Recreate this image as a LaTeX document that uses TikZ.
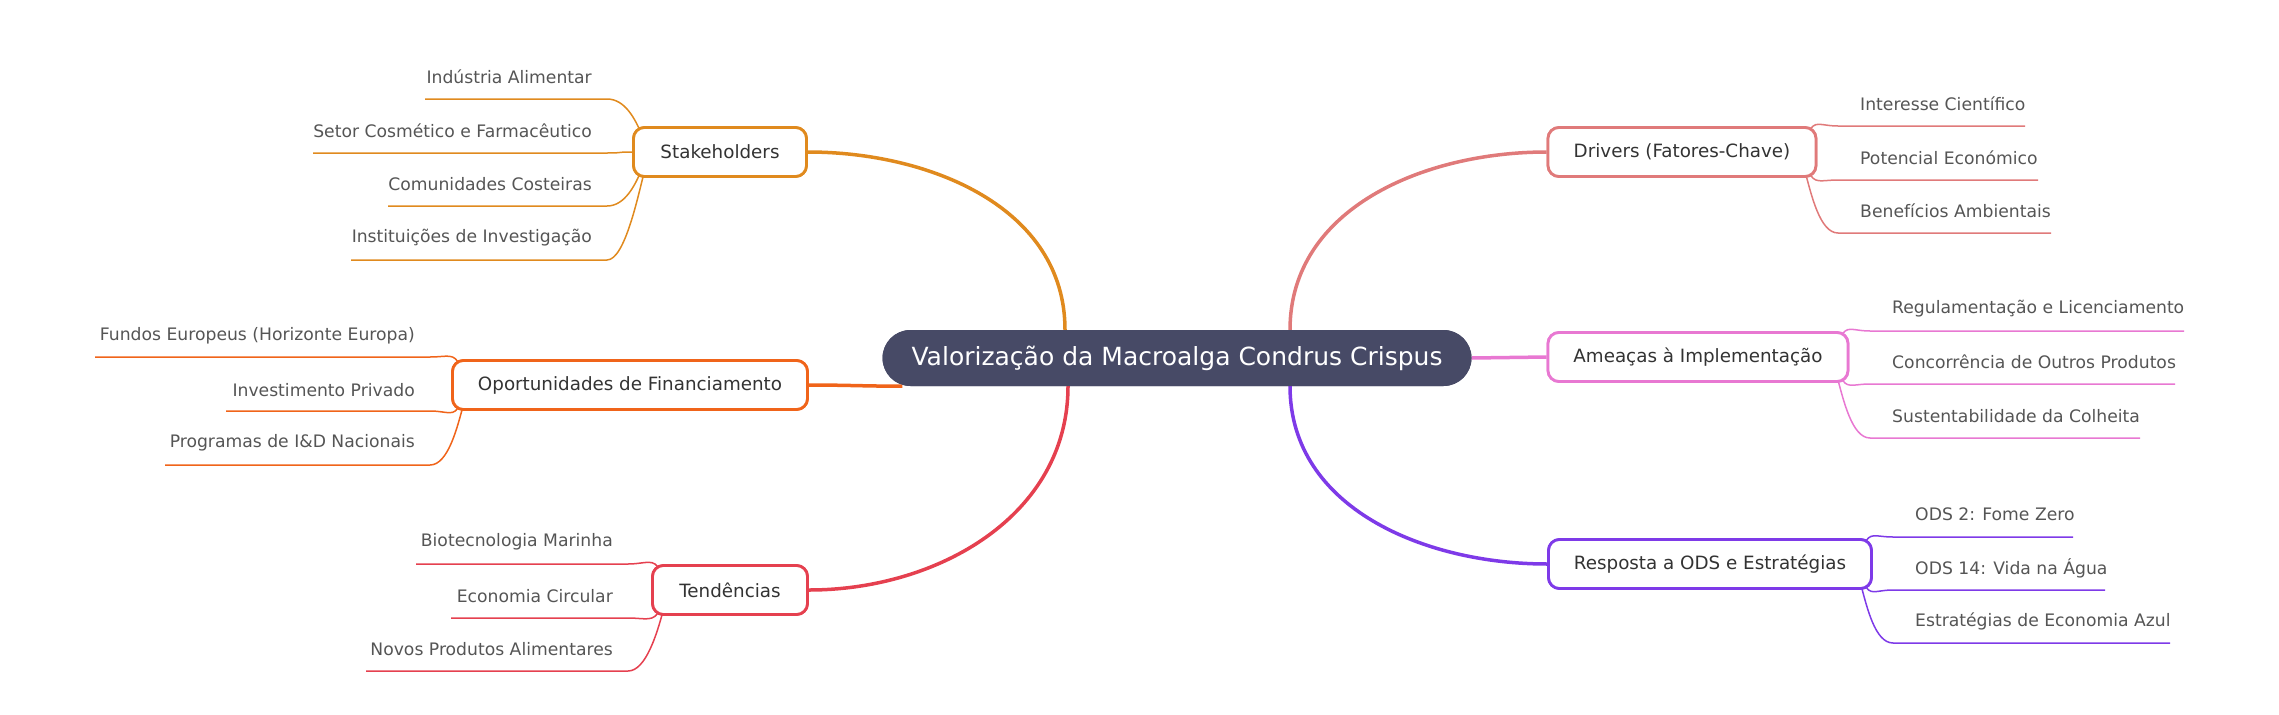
\documentclass[tikz,border=0pt]{standalone}
\usepackage{fontspec}
\setmainfont{DejaVu Sans}
\usetikzlibrary{calc}
\definecolor{cst}{HTML}{E08A1E}
\definecolor{cop}{HTML}{F0641A}
\definecolor{cte}{HTML}{E5404F}
\definecolor{cdr}{HTML}{E07A7A}
\definecolor{cam}{HTML}{E878D2}
\definecolor{cre}{HTML}{7E3AE8}
\definecolor{cmain}{HTML}{474A66}
\definecolor{ltext}{HTML}{555555}
\begin{document}
\begin{tikzpicture}[x=1pt,y=-1pt,
  boxn/.style={draw,line width=2.8pt,rounded corners=11pt,fill=white,minimum height=49pt,inner sep=0pt,font=\fontsize{18.3}{21}\selectfont,text=black!80},
  centn/.style={fill=cmain,rounded corners=28pt,minimum width=589pt,minimum height=56pt,text=white,font=\fontsize{25}{29}\selectfont,inner sep=0pt},
  leaf/.style={font=\fontsize{17.2}{20}\selectfont,text=ltext,inner sep=0pt},
  main/.style={line width=3.5pt},
  thin/.style={line width=1.5pt}]
\useasboundingbox (0,0) rectangle (2279,715);
\node[centn] (c) at (1177,358) {Valorização da Macroalga Condrus Crispus};
\node[boxn,draw=cst,minimum width=173pt] (stk) at (720,152) {Stakeholders};
\node[boxn,draw=cop,minimum width=355pt] (opp) at (630,385) {Oportunidades de Financiamento};
\node[boxn,draw=cte,minimum width=155pt] (ten) at (730,590) {Tendências};
\node[boxn,draw=cdr,minimum width=268pt] (drv) at (1682,152) {Drivers (Fatores-Chave)};
\node[boxn,draw=cam,minimum width=300pt] (ame) at (1698,357) {Ameaças à Implementação};
\node[boxn,draw=cre,minimum width=323pt] (res) at (1710,564) {Resposta a ODS e Estratégias};
\draw[main,cst] ($(c.north)+(-112,0)$) to[out=90,in=0] (stk.east);
\draw[main,cop] (opp.east) to[out=0,in=180] ($(c.south west)+(20,0)$);
\draw[main,cte] ($(c.south)+(-109,0)$) to[out=-90,in=0] (ten.east);
\draw[main,cdr] ($(c.north)+(113,0)$) to[out=90,in=180] (drv.west);
\draw[main,cam] (c.east) -- (ame.west);
\draw[main,cre] ($(c.south)+(113,0)$) to[out=-90,in=180] (res.west);
\foreach \tx/\ty/\ly/\xs/\xe/\col/\bx/\n/\an/\dx/\dy/\cx/\cy in {
 Indústria Alimentar/77/99/425/607/cst/stk/a1/north west/9/7/-6/-14,
 Setor Cosmético e Farmacêutico/131/153/313/607/cst/stk/a2/west/0/0/-18/0,
 Comunidades Costeiras/184/206/388/607/cst/stk/a3/south west/9/-7/-6/14,
 Instituições de Investigação/238/260/351/607/cst/stk/a4/south west/12/-5/-6/22,
 Fundos Europeus (Horizonte Europa)/336/357/95/430/cop/opp/b1/north west/9/7/-6/-14,
 Investimento Privado/390/411/226/430/cop/opp/b2/south west/9/-7/-6/14,
 Programas de I\&D Nacionais/443/465/165/430/cop/opp/b3/south west/12/-5/-6/22,
 Biotecnologia Marinha/542/564/416/628/cte/ten/c1/north west/9/7/-6/-14,
 Economia Circular/596/618/451/628/cte/ten/c2/south west/9/-7/-6/14,
 Novos Produtos Alimentares/649/671/366/628/cte/ten/c3/south west/12/-5/-6/22}{
 \node[leaf,anchor=east] (\n) at (\xe-15,\ty) {\tx};
 \coordinate (\n s) at (\xs,\ly);
 \coordinate (\n e) at (\xe,\ly);
 \draw[thin,\col] (\n s) -- (\n e) .. controls +(18,0) and +(\cx,\cy) .. ($(\bx.\an)+(\dx,\dy)$);
}
\foreach \tx/\ty/\ly/\xs/\xe/\col/\bx/\n/\an/\dx/\dy/\cx/\cy in {
 Interesse Científico/104/126/1838/2025/cdr/drv/d1/north east/-9/7/6/-14,
 Potencial Económico/158/180/1838/2038/cdr/drv/d2/south east/-9/-7/6/14,
 Benefícios Ambientais/211/233/1838/2051/cdr/drv/d3/south east/-12/-5/6/22,
 Regulamentação e Licenciamento/309/331/1870/2184/cam/ame/e1/north east/-9/7/6/-14,
 Concorrência de Outros Produtos/362/384/1870/2175/cam/ame/e2/south east/-9/-7/6/14,
 Sustentabilidade da Colheita/416/438/1870/2140/cam/ame/e3/south east/-12/-5/6/22,
 ODS 2: Fome Zero/514/537/1893/2073/cre/res/f1/north east/-9/7/6/-14,
 ODS 14: Vida na Água/568/590/1893/2105/cre/res/f2/south east/-9/-7/6/14,
 Estratégias de Economia Azul/621/643/1893/2170/cre/res/f3/south east/-12/-5/6/22}{
 \node[leaf,anchor=west] (\n) at (\xs+22,\ty) {\tx};
 \coordinate (\n s) at (\xs,\ly);
 \coordinate (\n e) at (\xe,\ly);
 \draw[thin,\col] ($(\bx.\an)+(\dx,\dy)$) .. controls +(\cx,\cy) and +(-18,0) .. (\n s) -- (\n e);
}
% redraw shapes on top of connectors
\node[boxn,draw=cst,minimum width=173pt] at (720,152) {Stakeholders};
\node[boxn,draw=cop,minimum width=355pt] at (630,385) {Oportunidades de Financiamento};
\node[boxn,draw=cte,minimum width=155pt] at (730,590) {Tendências};
\node[boxn,draw=cdr,minimum width=268pt] at (1682,152) {Drivers (Fatores-Chave)};
\node[boxn,draw=cam,minimum width=300pt] at (1698,357) {Ameaças à Implementação};
\node[boxn,draw=cre,minimum width=323pt] at (1710,564) {Resposta a ODS e Estratégias};
\node[centn] at (1177,358) {Valorização da Macroalga Condrus Crispus};
\end{tikzpicture}
\end{document}
